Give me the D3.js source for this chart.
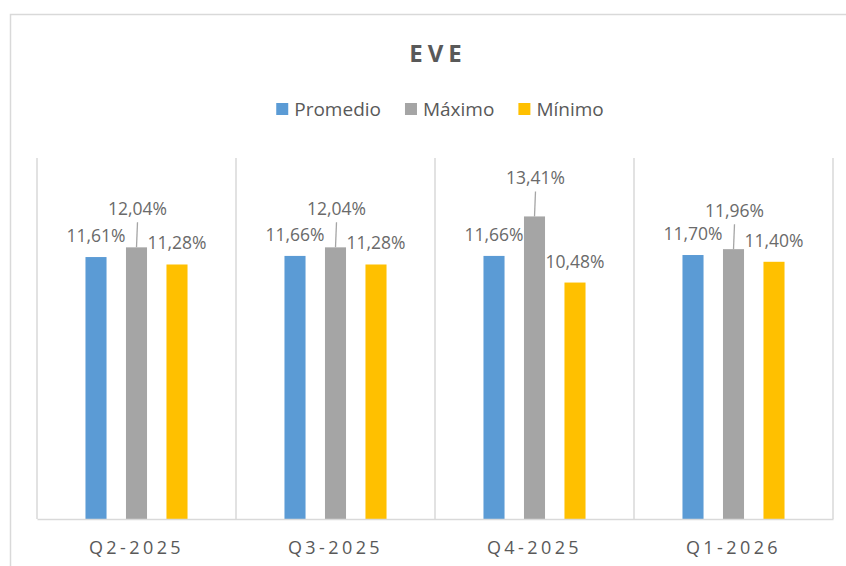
<!DOCTYPE html>
<html><head><meta charset="utf-8">
<script src="https://cdn.jsdelivr.net/npm/d3@7"></script>
<style>
html,body{margin:0;padding:0;background:#fff;}
svg{display:block;font-family:"Open Sans", "Noto Sans", sans-serif;}
</style></head>
<body>
<svg id="chart" width="846" height="566"></svg>
<script>
const title = "EVE";
const categories = ["Q2-2025", "Q3-2025", "Q4-2025", "Q1-2026"];
const seriesNames = ["Promedio", "Máximo", "Mínimo"];
const promedio = [11.61, 11.66, 11.66, 11.70];
const maximo   = [12.04, 12.04, 13.41, 11.96];
const minimo   = [11.28, 11.28, 10.48, 11.40];
const colors = ["#5B9BD5", "#A5A5A5", "#FFC000"];
const yMax = 16;

const seriesValues = [promedio, maximo, minimo];
const svg = d3.select("#chart");
const W = 846, H = 566;
const plot = {left: 37, right: 833, top: 158, bottom: 519};
const textColor = "#595959";
const labelColor = "#6a6a6a";
const lineColor = "#D9D9D9";

// outer chart border
svg.append("rect").attr("x", 10.5).attr("y", 14.5).attr("width", W + 20).attr("height", H + 20)
  .attr("fill", "#fff").attr("stroke", lineColor).attr("stroke-width", 1.5);

const x0 = d3.scaleBand().domain(categories).range([plot.left, plot.right]).paddingInner(0).paddingOuter(0);
const x1 = d3.scaleBand().domain(seriesNames).range([0, x0.bandwidth()]).paddingInner(0.48).paddingOuter(1.197);
const y = d3.scaleLinear().domain([0, yMax]).range([plot.bottom, plot.top]);

const locale = d3.formatLocale({decimal: ",", thousands: ".", grouping: [3], currency: ["", "€"]});
const fmt = v => locale.format(".2f")(v) + "%";

// category separators
const bounds = categories.map(c => x0(c)).concat([x0(categories[categories.length-1]) + x0.bandwidth()]);
svg.append("g").selectAll("line").data(bounds).join("line")
  .attr("x1", d => d).attr("x2", d => d).attr("y1", plot.top).attr("y2", plot.bottom)
  .attr("stroke", lineColor).attr("stroke-width", 1.5);

// bars
const rows = [];
categories.forEach((c, i) => seriesNames.forEach((s, j) => rows.push({c, s, j, v: seriesValues[j][i]})));
svg.append("g").selectAll("rect").data(rows).join("rect")
  .attr("x", d => x0(d.c) + x1(d.s)).attr("width", x1.bandwidth())
  .attr("y", d => y(d.v)).attr("height", d => plot.bottom - y(d.v))
  .attr("fill", d => colors[d.j]);

// axis
const xAxis = d3.axisBottom(x0).tickSize(0).tickPadding(0).tickFormat(d => d);
const ax = svg.append("g").attr("transform", `translate(0,${plot.bottom})`).call(xAxis);
ax.select(".domain").attr("stroke", lineColor).attr("stroke-width", 1.5);
ax.selectAll("text").attr("font-family", "'Open Sans'").attr("font-size", 18).attr("fill", textColor)
  .attr("letter-spacing", "3.4px").attr("dy", 0).attr("y", 35).attr("dx", 0);

// data labels
const lbl = svg.append("g").attr("font-size", 17.5).attr("fill", labelColor).attr("text-anchor", "middle");
rows.forEach(d => {
  const cx = x0(d.c) + x1(d.s) + x1.bandwidth() / 2;
  const top = y(d.v);
  if (d.j === 1) {
    svg.append("line").attr("x1", cx).attr("x2", cx + 1).attr("y1", top).attr("y2", top - 25)
      .attr("stroke", "#A5A5A5").attr("stroke-width", 1.3);
    lbl.append("text").attr("x", cx + 1).attr("y", top - 32).text(fmt(d.v));
  } else {
    lbl.append("text").attr("x", cx).attr("y", top - 15).text(fmt(d.v));
  }
});

// title
svg.append("text").attr("x", 438).attr("y", 62).attr("text-anchor", "middle")
  .attr("font-size", 24).attr("font-weight", "bold").attr("letter-spacing", "5px")
  .attr("fill", textColor).text(title);

// legend
const leg = svg.append("g");
const items = seriesNames.map((s, j) => {
  const g = leg.append("g");
  g.append("rect").attr("width", 12).attr("height", 12).attr("y", -13).attr("fill", colors[j]);
  const t = g.append("text").attr("x", 18).attr("font-size", 19).attr("fill", textColor).text(s);
  return {g, w: 18 + t.node().getComputedTextLength()};
});
const gap = 24;
const total = d3.sum(items, d => d.w) + gap * (items.length - 1);
let lx = 440 - total / 2;
items.forEach(it => { it.g.attr("transform", `translate(${lx},116)`); lx += it.w + gap; });
</script>
</body></html>
